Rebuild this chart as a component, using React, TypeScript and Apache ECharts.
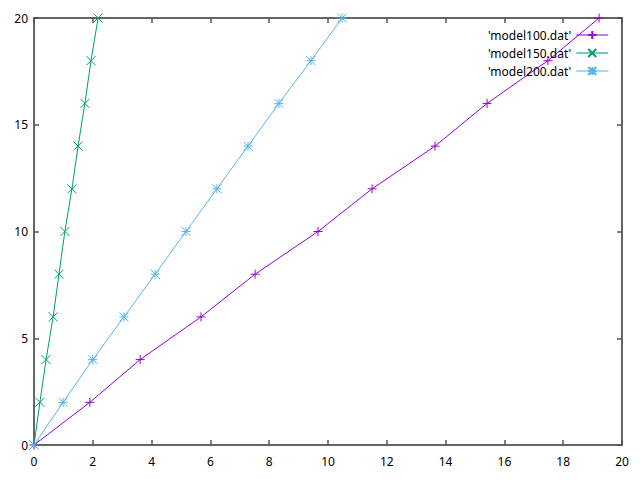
import React, { useEffect, useRef } from "react";
import * as echarts from "echarts";

const yValues = [0, 2, 4, 6, 8, 10, 12, 14, 16, 18, 20];
const model100X = [0, 1.9, 3.61, 5.68, 7.52, 9.66, 11.5, 13.64, 15.41, 17.48, 19.22];
const model150X = [0, 0.2, 0.41, 0.65, 0.85, 1.05, 1.29, 1.5, 1.73, 1.94, 2.18];
const model200X = [0, 0.99, 2.0, 3.06, 4.12, 5.17, 6.22, 7.28, 8.33, 9.42, 10.48];
const seriesNames = ["'model100.dat'", "'model150.dat'", "'model200.dat'"];
const colors = ["#9400d3", "#009e73", "#56b4e9"];

const PLUS = "path://M0,-1L0,1M-1,0L1,0";
const CROSS = "path://M-1,-1L1,1M-1,1L1,-1";
const STAR = "path://M0,-1L0,1M-1,0L1,0M-1,-1L1,1M-1,1L1,-1";
const symbols = [PLUS, CROSS, STAR];

export default function App() {
  const ref = useRef<HTMLDivElement>(null);
  useEffect(() => {
    if (!ref.current) return;
    const chart = echarts.init(ref.current, undefined, { renderer: "svg" });
    const xs = [model100X, model150X, model200X];
    const axisLine = { show: true, onZero: false, lineStyle: { color: "#333", width: 1.5 } };
    const tick = { show: true, inside: true, length: 5, lineStyle: { color: "#555", width: 1.5 } };
    const font = "Noto Sans";
    chart.setOption({
      animation: false,
      backgroundColor: "#fff",
      grid: { left: 34, right: 18, top: 18, bottom: 35 },
      legend: {
        orient: "vertical",
        right: 26,
        top: 24,
        align: "right",
        itemWidth: 32,
        itemHeight: 10,
        itemGap: 6,
        lineStyle: { width: 1.5, opacity: 0.7 },
        textStyle: { fontFamily: font, fontSize: 12, color: "#000" },
        data: seriesNames,
      },
      xAxis: [
        {
          type: "value",
          min: 0,
          max: 20,
          interval: 2,
          position: "bottom",
          axisLine,
          axisTick: tick,
          splitLine: { show: false },
          axisLabel: { fontFamily: font, fontSize: 12, color: "#000", margin: 10 },
        },
        {
          type: "value",
          min: 0,
          max: 20,
          interval: 2,
          position: "top",
          axisLine,
          axisTick: tick,
          splitLine: { show: false },
          axisLabel: { show: false },
        },
      ],
      yAxis: [
        {
          type: "value",
          min: 0,
          max: 20,
          interval: 5,
          position: "left",
          axisLine,
          axisTick: tick,
          splitLine: { show: false },
          axisLabel: { fontFamily: font, fontSize: 12, color: "#000", margin: 6 },
        },
        {
          type: "value",
          min: 0,
          max: 20,
          interval: 5,
          position: "right",
          axisLine,
          axisTick: tick,
          splitLine: { show: false },
          axisLabel: { show: false },
        },
      ],
      series: seriesNames.map((name, i) => ({
        name,
        type: "line",
        data: xs[i].map((x, k) => [x, yValues[k]]),
        symbol: symbols[i],
        symbolSize: 9,
        showAllSymbol: true,
        color: colors[i],
        lineStyle: { color: colors[i], width: 1 },
        itemStyle: { color: colors[i], borderColor: colors[i], borderWidth: 1 },
        emphasis: { disabled: true },
        clip: false,
      })),
    });
    return () => chart.dispose();
  }, []);
  return <div ref={ref} style={{ width: 640, height: 480, position: "absolute", left: 0, top: 0 }} />;
}
